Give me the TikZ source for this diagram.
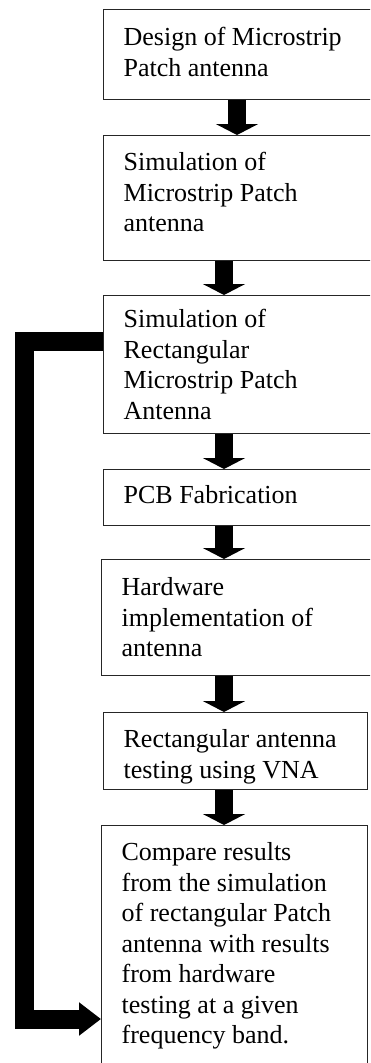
\documentclass[tikz,border=0pt]{standalone}
\usepackage{fontspec}
\setmainfont{Liberation Serif}
\usetikzlibrary{arrows.meta}
\newcommand\bxtext[4]{\parbox[c][#1][t]{#2}{\raggedright\rule{0pt}{#3}#4}}
\begin{document}
\begin{tikzpicture}[x=1pt,y=-1pt,
  box/.style={draw=black!85, line width=1.3pt, anchor=north west, inner xsep=20pt, inner ysep=0pt,
    font=\fontsize{26pt}{30.5pt}\selectfont, text=black},
  blockarrow/.style={line width=18pt, black, -{Triangle[length=11pt,width=42pt]}},
  fbline/.style={line width=19pt, black, line join=miter, -{Triangle[length=22pt,width=32pt]}}]
\clip (0,0) rectangle (370,1063);
\fill[white] (0,0) rectangle (370,1063);
% boxes
\node[box, minimum width=272pt] (b1) at (103,9) {\bxtext{90pt}{232pt}{36pt}{Design of Microstrip\\Patch antenna}};
\node[box, minimum width=272pt] (b2) at (103,135) {\bxtext{125pt}{232pt}{35pt}{Simulation of\\Microstrip Patch\\antenna}};
\node[box, minimum width=272pt] (b3) at (103,295) {\bxtext{138pt}{232pt}{32pt}{Simulation of\\Rectangular\\Microstrip Patch\\Antenna}};
\node[box, minimum width=272pt] (b4) at (103,469) {\bxtext{56pt}{232pt}{34pt}{PCB Fabrication}};
\node[box, minimum width=274pt] (b5) at (101,559) {\bxtext{116pt}{234pt}{36pt}{Hardware\\implementation of\\antenna}};
\node[box] (b6) at (103,712) {\bxtext{77pt}{224pt}{35pt}{Rectangular antenna\\testing using VNA}};
\node[box] (b7) at (101,825) {\bxtext{250pt}{226pt}{35pt}{Compare results\\from the simulation\\of rectangular Patch\\antenna with results\\from hardware\\testing at a given\\frequency band.}};
% arrow axes
\coordinate (ax1) at (237,0);
\coordinate (ax) at (224,0);
\draw[blockarrow] (ax1 |- b1.south) -- (ax1 |- b2.north);
\draw[blockarrow] (ax |- b2.south) -- (ax |- b3.north);
\draw[blockarrow] (ax |- b3.south) -- (ax |- b4.north);
\draw[blockarrow] (ax |- b4.south) -- (ax |- b5.north);
\draw[blockarrow] (ax |- b5.south) -- (ax |- b6.north);
\draw[blockarrow] (ax |- b6.south) -- (ax |- b7.north);
% feedback connector
\coordinate (fy1) at (0,341);
\coordinate (fcorner) at (24.5,1019);
\draw[fbline] (b3.west |- fy1) -| (fcorner) -- (b7.west |- fcorner);
\end{tikzpicture}
\end{document}
